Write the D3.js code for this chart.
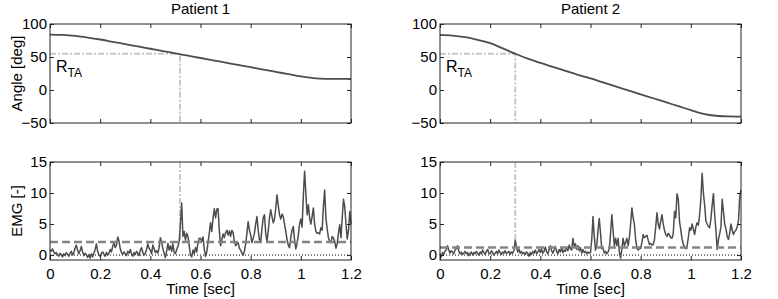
<!DOCTYPE html>
<html>
<head>
<meta charset="utf-8">
<script src="https://cdn.jsdelivr.net/npm/d3@7"></script>
<style>
  body { margin: 0; background: #fff; }
  svg { font-family: "Liberation Sans", Arial, sans-serif; }
  .tick text { font-size: 15px; fill: #000; }
  .domain { display: none; }
  .tick line { stroke: #222; }
</style>
</head>
<body>
<svg id="chart" width="778" height="299"></svg>
<script>
// values
let patients = ["Patient 1", "Patient 2"],
    angleStep = 0.05,
    emgStep = 0.005,
    timeTicks = [0, 0.2, 0.4, 0.6, 0.8, 1, 1.2],
    angleTicks = [-50, 0, 50, 100],
    emgTicks = [0, 5, 10, 15],
    onset = [0.518, 0.30],
    rtaLevel = [55, 55],
    threshold = [2.1, 1.2];

let angle1 = [84, 83.5, 82, 79.5, 76.5, 73, 69.5, 66, 62.5, 59, 55.5, 52, 48.5, 45, 41.5,
              38, 34.5, 31, 27.5, 24, 20.5, 18, 17, 16.8, 16.7];
let angle2 = [83.5, 82.5, 80, 76, 71, 63, 55, 47.5, 41, 35, 29, 23, 17.5, 11.5, 5.5,
              -0.5, -6.5, -12.5, -18.5, -24.5, -30.5, -36, -39, -40, -40.3];

let emg1 = [
  0.8, 0.6, 1.0, 0.5, 0.2, 0.4, 0.1, -0.2, 0.3, 0.0,
  -0.3, 0.2, -0.1, 0.4, 0.1, -0.2, 0.3, 0.6, 0.0, 0.4,
  1.1, 1.6, 0.8, 0.2, 0.7, 1.4, 0.5, -0.1, 0.3, 0.0,
  -0.4, 0.1, -0.5, 0.2, -0.3, 0.3, 0.9, 1.8, 0.6, 0.0,
  -0.2, 0.3, 0.5, 0.1, -0.2, 0.4, 0.0, 0.3, 0.9, 0.5,
  1.4, 2.0, 1.2, 1.6, 2.9, 2.3, 1.0, 0.4, 0.1, 0.5,
  0.2, -0.1, 0.6, 0.3, 0.9, 0.2, -0.2, 0.4, 0.1, 0.6,
  0.3, -0.1, 0.8, 1.2, 0.4, 0.0, 0.3, 0.9, 1.8, 1.1,
  0.8, 0.2, 1.6, 1.0, 0.4, 0.7, 0.3, 1.2, 2.8, 2.1,
  1.0, 0.3, -0.4, 0.6, 1.9, 0.8, 1.5, 0.6, 1.8, 0.4,
  0.2, 0.9, 1.4, 2.2, 5.0, 8.4, 3.0, 3.8, 2.4, 3.5,
  3.0, 1.5, 0.0, -0.3, 0.8, 0.2, 1.2, 0.5, 2.0, 2.7,
  2.7, 2.2, 2.9, 1.0, -0.2, 0.5, 2.0, 3.5, 5.2, 3.8,
  6.0, 7.5, 6.0, 7.4, 7.5, 4.0, 1.5, 2.5, 3.4, 2.8,
  3.6, 4.0, 3.2, 3.9, 3.0, 4.0, 3.6, 2.2, 1.5, 1.8,
  2.0, 1.1, 0.8, 0.3, 0.0, 0.6, 1.8, 3.5, 5.4, 4.0,
  3.2, 2.0, 2.7, 3.5, 5.0, 6.2, 4.0, 2.5, 2.2, 4.2,
  6.0, 6.5, 3.5, 2.2, 3.8, 6.0, 7.3, 6.2, 5.2, 5.8,
  7.5, 9.7, 8.0, 6.5, 5.8, 6.6, 6.2, 5.0, 3.8, 2.5,
  1.6, 1.2, 2.8, 4.0, 4.6, 2.4, 1.0, 1.8, 3.2, 5.0,
  5.8, 4.5, 9.5, 13.5, 10.0, 6.5, 8.1, 6.0, 5.0, 6.2,
  7.6, 5.0, 3.8, 3.5, 3.6, 3.4, 4.4, 4.0, 7.8, 10.5,
  6.0, 4.2, 2.8, 2.2, 2.0, 3.0, 2.7, 2.2, 1.1, 1.8,
  3.5, 4.9, 2.8, 6.0, 9.0, 7.8, 5.0, 2.6, 4.0, 7.0,
  5.0];

let emg2 = [
  0.2, -0.3, 0.4, 0.1, 0.6, 0.9, 1.5, 0.8, 0.3, 0.7,
  0.5, 0.2, 0.8, 1.0, 1.5, 0.6, 0.2, 0.5, 0.1, 0.3,
  0.6, 0.2, 0.4, -0.1, 0.3, 0.5, 0.0, 0.4, 0.2, 0.6,
  0.3, 0.0, 0.5, 0.2, 0.8, 0.4, 0.1, 0.6, 0.9, 0.3,
  0.2, 0.7, 0.4, 0.0, 0.3, 0.6, 0.2, 0.8, 0.4, 0.1,
  0.5, 0.3, 0.7, 0.2, 0.4, 0.6, 0.1, 0.5, 0.3, 0.8,
  2.4, 1.2, 0.5, 0.9, 0.3, 0.6, 0.2, 0.4, 0.1, 0.5,
  0.3, -0.2, 0.4, 0.1, 0.6, 0.3, 0.8, 0.2, 0.5, 0.9,
  0.4, 1.0, 0.3, 0.6, 1.3, 0.5, 0.2, 0.9, 1.5, 0.7,
  0.3, 0.8, 1.4, 0.6, 0.2, 0.9, 0.5, 1.2, 0.4, 0.8,
  0.6, 1.3, 0.7, 1.6, 1.0, 0.8, 2.7, 1.4, 1.8, 0.9,
  1.5, 0.7, 1.2, 0.3, 0.9, 0.4, 0.6, 0.2, 0.5, 0.3,
  0.4, 2.5, 6.2, 3.0, 0.8, 1.5, 4.0, 5.9, 3.5, 1.0,
  1.2, 0.3, 0.6, 0.2, 0.5, 1.0, 3.5, 6.5, 4.0, 1.5,
  2.7, 1.5, 2.7, 0.5, -0.5, 1.0, 2.7, 1.5, 2.0, 2.7,
  1.5, 2.8, 5.0, 7.6, 6.0, 4.9, 2.5, 1.2, 0.8, 1.0,
  1.1, 2.0, 3.3, 2.8, 3.0, 3.2, 2.4, 1.7, 1.9, 1.6,
  1.7, 2.5, 4.5, 6.8, 5.0, 4.2, 5.5, 6.5, 5.0, 4.0,
  3.3, 3.0, 3.5, 3.2, 2.8, 2.7, 3.5, 7.0, 6.0, 9.9,
  9.0, 5.4, 4.0, 2.6, 1.7, 1.4, 1.0, 1.4, 2.8, 4.4,
  4.0, 5.0, 4.2, 3.3, 4.5, 5.2, 4.8, 6.5, 9.0, 13.2,
  10.0, 8.1, 5.5, 5.0, 4.6, 4.4, 5.8, 8.0, 9.9, 6.5,
  4.0, 0.9, 2.5, 3.4, 4.5, 9.0, 7.0, 5.0, 4.2, 3.0,
  2.5, 3.5, 5.0, 4.0, 3.3, 3.8, 4.0, 4.6, 5.5, 9.5,
  10.5];

let angles = [angle1, angle2],
    emgs = [emg1, emg2];

let panelsX = [[50, 351], [440, 741]],
    top_ = {y0: 24, y1: 123},
    bot = {y0: 162, y1: 260},
    lineCol = "#4d4d4d",
    rtaCol = "#c8c8c8";

let svg = d3.select("#chart");

function box(g, x, y) {
  let [x0, x1] = x.range(), [y1, y0] = y.range();
  g.append("rect")
    .attr("x", x0).attr("y", y0)
    .attr("width", x1 - x0).attr("height", y1 - y0)
    .attr("fill", "none").attr("stroke", "#222").attr("stroke-width", 1);
}

function axes(g, x, y, yTicks, xLabels) {
  let [x0, x1] = x.range(), [y1, y0] = y.range();
  g.append("g").attr("transform", `translate(0,${y1})`)
    .call(d3.axisBottom(x).tickValues(timeTicks).tickSize(-4).tickPadding(8)
      .tickFormat(xLabels ? d3.format("") : () => ""));
  g.append("g").attr("transform", `translate(0,${y0})`)
    .call(d3.axisTop(x).tickValues(timeTicks).tickSize(-4).tickFormat(() => ""));
  g.append("g").attr("transform", `translate(${x0},0)`)
    .call(d3.axisLeft(y).tickValues(yTicks).tickSize(-4).tickPadding(3));
  g.append("g").attr("transform", `translate(${x1},0)`)
    .call(d3.axisRight(y).tickValues(yTicks).tickSize(-4).tickFormat(() => ""));
}

patients.forEach((name, p) => {
  let x = d3.scaleLinear().domain([0, 1.2]).range(panelsX[p]);
  let yA = d3.scaleLinear().domain([-50, 100]).range([top_.y1, top_.y0]);
  let yE = d3.scaleLinear().domain([-0.8, 15]).range([bot.y1, bot.y0]);
  let cx = (panelsX[p][0] + panelsX[p][1]) / 2;

  // angle panel
  let gA = svg.append("g");
  gA.append("path")
    .attr("d", d3.line()([[x(0), yA(rtaLevel[p])], [x(onset[p]), yA(rtaLevel[p])], [x(onset[p]), yA(-50)]]))
    .attr("fill", "none").attr("stroke", rtaCol).attr("stroke-width", 2)
    .attr("stroke-dasharray", "6,2,2,2");
  gA.append("path")
    .datum(angles[p])
    .attr("d", d3.line().curve(d3.curveMonotoneX)
      .x((d, i) => x(i * angleStep)).y(d => yA(d)))
    .attr("fill", "none").attr("stroke", lineCol).attr("stroke-width", 1.8);
  axes(gA, x, yA, angleTicks, false);
  box(gA, x, yA);

  let lbl = gA.append("text")
    .attr("x", x(0) + 6).attr("y", yA(rtaLevel[p]) + 18)
    .attr("font-size", 16);
  lbl.append("tspan").text("R");
  lbl.append("tspan").attr("dy", 5).attr("font-size", 12).text("TA");

  gA.append("text").text(name)
    .attr("x", cx).attr("y", 14)
    .attr("text-anchor", "middle").attr("font-size", 15);

  // EMG panel
  let gE = svg.append("g");
  gE.append("line")
    .attr("x1", x(onset[p])).attr("x2", x(onset[p]))
    .attr("y1", yE(15)).attr("y2", yE(threshold[p]))
    .attr("stroke", rtaCol).attr("stroke-width", 2)
    .attr("stroke-dasharray", "6,2,2,2");
  gE.append("line")
    .attr("x1", x(0)).attr("x2", x(1.2))
    .attr("y1", yE(0)).attr("y2", yE(0))
    .attr("stroke", "#000").attr("stroke-width", 1)
    .attr("stroke-dasharray", "1,2");
  gE.append("path")
    .datum(emgs[p])
    .attr("d", d3.line().x((d, i) => x(i * emgStep)).y(d => yE(d)))
    .attr("fill", "none").attr("stroke", lineCol).attr("stroke-width", 1.5)
    .attr("stroke-linejoin", "round");
  gE.append("line")
    .attr("x1", x(0)).attr("x2", x(1.2))
    .attr("y1", yE(threshold[p])).attr("y2", yE(threshold[p]))
    .attr("stroke", "#858585").attr("stroke-width", 2.5)
    .attr("stroke-dasharray", "8,4");
  axes(gE, x, yE, emgTicks, true);
  box(gE, x, yE);

  gE.append("text").text("Time [sec]")
    .attr("x", cx).attr("y", 294)
    .attr("text-anchor", "middle").attr("font-size", 15);

  if (p == 0) {
    gA.append("text").text("Angle [deg]")
      .attr("transform", `translate(22, ${(top_.y0 + top_.y1) / 2})rotate(-90)`)
      .attr("text-anchor", "middle").attr("font-size", 15);
    gE.append("text").text("EMG [-]")
      .attr("transform", `translate(22, ${(bot.y0 + bot.y1) / 2})rotate(-90)`)
      .attr("text-anchor", "middle").attr("font-size", 15);
  }
});
</script>
</body>
</html>
